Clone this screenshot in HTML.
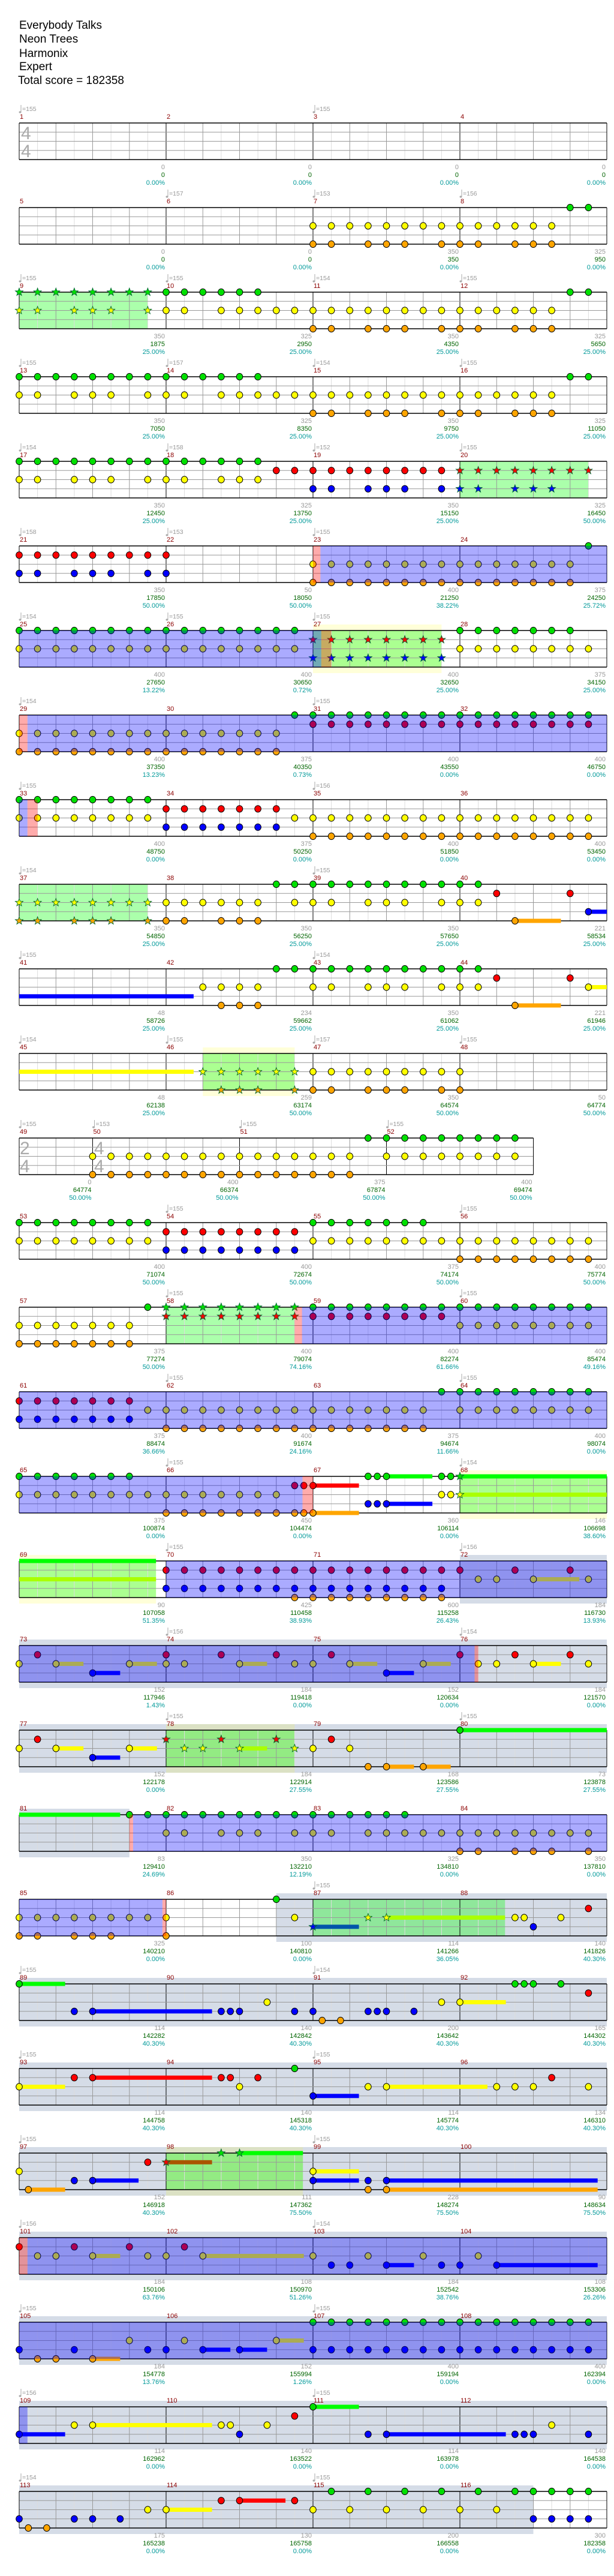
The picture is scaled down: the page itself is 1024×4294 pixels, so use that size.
<!DOCTYPE html>
<html><head><meta charset="utf-8"><style>
html,body{margin:0;padding:0;background:#fff;width:1024px;height:4294px;overflow:hidden}
svg{display:block}
text{font-family:"Liberation Sans",sans-serif}
</style></head><body>
<svg id="s" width="1024" height="4294" xmlns="http://www.w3.org/2000/svg">
<text x="32" y="48" font-size="19">Everybody Talks</text>
<text x="32" y="71" font-size="19">Neon Trees</text>
<text x="32" y="95" font-size="19">Harmonix</text>
<text x="32" y="117" font-size="19">Expert</text>
<text x="30" y="140" font-size="19">Total score = 182358</text>
</svg>
<script>
const R=[
{m:1,tp:[[0,155],[16,155]],sc:[[0,0,"0.00%"],[0,0,"0.00%"],[0,0,"0.00%"],[0,0,"0.00%"]],ts:1,n:[]},
{m:5,tp:[[8,157],[16,153],[24,156]],sc:[[0,0,"0.00%"],[0,0,"0.00%"],[350,350,"0.00%"],[325,950,"0.00%"]],
n:["..............................oo","","................oooooooooooooo..","","................oo.ooo.ooo.ooo.."]},
{m:9,tp:[[0,155],[8,155],[16,154],[24,155]],sc:[[350,1875,"25.00%"],[325,2950,"25.00%"],[350,4350,"25.00%"],[325,5650,"25.00%"]],
g:[[0,7]],n:["ssssssssoooooo................oo","","ss.sss.soo.ooooooooooooooooooo..","","................oo.ooo.ooo.ooo.."]},
{m:13,tp:[[0,155],[8,157],[16,154],[24,155]],sc:[[350,7050,"25.00%"],[325,8350,"25.00%"],[350,9750,"25.00%"],[325,11050,"25.00%"]],
n:["oooooooooooooo................oo","","oo.ooo.ooo.ooooooooooooooooooo..","","................oo.ooo.ooo.ooo.."]},
{m:17,tp:[[0,154],[8,158],[16,152],[24,155]],sc:[[350,12450,"25.00%"],[325,13750,"25.00%"],[350,15150,"25.00%"],[325,16450,"50.00%"]],
g:[[24,31]],n:["oooooooooooooo..................","..............oooooooooossssssss","oo.ooo.ooo.ooo..................","................oo.ooo.oss.sss..",""]},
{m:21,tp:[[0,158],[8,153],[16,155]],sc:[[350,17850,"50.00%"],[50,18050,"50.00%"],[400,21250,"38.22%"],[375,24250,"25.72%"]],
p:[[16,16.4]],b:[[16.4,32]],n:["...............................o","ooooooooo.......................","................ooooooooooooooo.","oo.ooo.oo.......................","................ooooooooooooooo."]},
{m:25,tp:[[0,154],[8,155],[16,155]],sc:[[400,27650,"13.22%"],[400,30650,"0.72%"],[400,32650,"25.00%"],[375,34150,"25.00%"]],
y:[[16,23]],g:[[16,23]],b:[[0,16.45]],p:[[16.45,17]],n:["oooooooooooooooo........ooooooo.","................ssssssss........","oooooooooooooooo........oooooooo","................ssssssss........",""]},
{m:29,tp:[[0,154],[16,155]],sc:[[400,37350,"13.23%"],[375,40350,"0.73%"],[400,43550,"0.00%"],[400,46750,"0.00%"]],
p:[[0,0.45]],b:[[0.45,32]],n:["...............ooooooooooooooooo","................oooooooooooooooo","ooooooooooooooo.................","","ooooooooooooooo................."]},
{m:33,tp:[[0,155],[16,156]],sc:[[400,48750,"0.00%"],[375,50250,"0.00%"],[400,51850,"0.00%"],[400,53450,"0.00%"]],
b:[[0,0.45]],p:[[0.45,1]],n:["oooooooo........................","........ooooooo.................","oooooooo.......ooooooooooooooooo","........ooooooo.................","................oooooooooooooooo"]},
{m:37,tp:[[0,154],[16,155]],sc:[[350,54850,"25.00%"],[350,56250,"25.00%"],[350,57650,"25.00%"],[221,58534,"25.00%"]],
g:[[0,7]],n:["..............oooooooooooo......","..........................o...o.","ssssssssoooooo.ooo.ooo.ooo......","...............................o","ss.sss.soo.ooo.............o...."],su:[[4,27,29.5],[3,31,32]]},
{m:41,tp:[[0,155],[16,154]],sc:[[48,58726,"25.00%"],[234,59662,"25.00%"],[350,61062,"25.00%"],[221,61946,"25.00%"]],
n:["..............oooooooooooo......","..........................o...o.","..........oooo..oo.ooo.ooo.....o","","...........ooo.............o...."],su:[[3,0,9.5],[4,27,29.5],[2,31,32]]},
{m:45,tp:[[0,154],[8,155],[16,157],[24,155]],sc:[[48,62138,"25.00%"],[259,63174,"50.00%"],[350,64574,"50.00%"],[50,64774,"50.00%"]],
y:[[10,15]],g:[[10,15]],n:["","","..........ssssssooooooooo.......","","...........sss.soo.ooo.oo......."],su:[[2,0,9.5]]},
{m:49,ns:28,ms:[0,4,12,20],tp:[[0,155],[4,153],[12,155],[20,155]],sc:[[0,64774,"50.00%"],[400,66374,"50.00%"],[375,67874,"50.00%"],[400,69474,"50.00%"]],ts:2,
n:["...................ooooooooo....","","....ooooooooooooooo.oooooooo....","","....ooooooooooooooo............."]},
{m:53,tp:[[8,155],[24,155]],sc:[[400,71074,"50.00%"],[400,72674,"50.00%"],[375,74174,"50.00%"],[400,75774,"50.00%"]],
n:["oooooooo........ooooooo.........","........oooooooo................","oooooooo........oooooooooooooooo","........oooooooo................","........................oooooooo"]},
{m:57,tp:[[8,155],[24,155]],sc:[[375,77274,"50.00%"],[400,79074,"74.16%"],[400,82274,"61.66%"],[400,85474,"49.16%"]],
g:[[8,15]],p:[[15,15.4]],b:[[15.4,32]],n:[".......ossssssssoooooooooooooooo","........ssssssssoooooooo........","ooooooo.................oooooooo","","ooooooo........................."]},
{m:61,tp:[[8,155],[24,155]],sc:[[375,88474,"36.66%"],[400,91674,"24.16%"],[375,94674,"11.66%"],[400,98074,"0.00%"]],
b:[[0,32]],n:[".......................ooooooooo","ooooooo.........................",".......oooooooooooooooo.oooooooo","ooooooo.........................","........ooooooooooooooo........."]},
{m:65,tp:[[8,155],[24,154]],sc:[[375,100874,"0.00%"],[450,104474,"0.00%"],[360,106114,"0.00%"],[146,106698,"38.60%"]],
y:[[24,32]],g:[[24,32]],b:[[0,15.43]],p:[[15.43,16]],
n:["ooooooo............+o..+s.......","...............+o...............","ooooooooooooooo........+s.......","...................+o...........","........ooooooo+o..............."],
su:[[0,20,22.5],[0,24,32],[1,16,18.5],[2,24,32,"#af0"],[3,20,22.5],[4,16,18.5]]},
{m:69,tp:[[8,155],[24,156]],sc:[[90,107058,"51.35%"],[425,110458,"38.93%"],[600,115258,"26.43%"],[184,116730,"13.93%"]],
y:[[0,7.45]],gr:[[24,32]],g:[[0,7.45]],b:[[8,32]],
n:["","........ooooooooooooooooo..o..o.",".........................oo.o..o","........oooooooooooooooo........","...............ooooooooo........"],su:[[0,0,7.45],[2,0,7.45,"#af0"],[2,28,30.5]]},
{m:73,tp:[[8,156],[24,154]],sc:[[152,117946,"1.43%"],[184,119418,"0.00%"],[152,120634,"0.00%"],[184,121570,"0.00%"]],
gr:[[0,32]],b:[[0,24.8]],p:[[24.8,25]],
n:["",".o......o..o..o..o......o..o..o.","o.o...o.oo..o..oo.o...o..oo.o..o","....o...............o...........",""],
su:[[2,2,3.5],[2,6,7.5],[2,12,13.5],[2,18,19.5],[2,22,23.5],[2,28,29.5],[3,4,5.5],[3,20,21.5]]},
{m:77,tp:[[8,155],[24,155]],sc:[[152,122178,"0.00%"],[184,122914,"27.55%"],[168,123586,"27.55%"],[73,123878,"27.55%"]],
gr:[[0,32]],y:[[8,15]],g:[[8,15]],
n:["........................o.......",".o......s..s..s..o..............","o.o...o..ss.s..so.o.............","....o...........................","...................oo.o........."],
su:[[2,2,3.5],[2,6,7.5],[2,12,13.5,"#af0"],[3,4,5.5],[4,20,21.5],[4,22,23.5],[0,24,32]]},
{m:81,tp:[],sc:[[83,129410,"24.69%"],[350,132210,"12.19%"],[325,134810,"0.00%"],[350,137810,"0.00%"]],
gr:[[0,6]],p:[[6,6.2]],b:[[6.2,32]],
n:["......oooooooooooooooo..........","","........oo.ooo.ooo.ooooooooooooo","","........................oo.ooo.o"],su:[[0,0,5.5]]},
{m:85,tp:[[16,155]],sc:[[325,140210,"0.00%"],[100,140810,"0.00%"],[114,141266,"36.05%"],[140,141826,"40.30%"]],
gr:[[14,32]],g:[[16,26.46]],b:[[0,7.8]],p:[[7.8,8]],
n:["..............o.................","...............................o","ooooooooo......o...ss......+.-..","................s...........o...","oo.ooo..o......................."],su:[[3,16,18.5,"#05a"],[2,20,26.46,"#af0"]]},
{m:89,tp:[[0,155],[16,154]],sc:[[114,142282,"40.30%"],[140,142842,"40.30%"],[200,143642,"40.30%"],[165,144302,"40.30%"]],
gr:[[0,32]],
n:["o..........................+o-..","...............................o",".............-.........oo.......","...oo......+o..oo..+o-..........","................--.............."],su:[[0,0,2.5],[3,4,10.5],[2,24,26.5]]},
{m:93,tp:[[0,155],[16,155]],sc:[[114,144758,"40.30%"],[140,145318,"40.30%"],[114,145774,"40.30%"],[134,146310,"40.30%"]],
gr:[[0,32]],
n:["...............o................","...oo......+.o...............o..","o...........o......oo.....ooo..o","................o...............",""],su:[[1,4,10.5],[2,0,2.5],[2,20,25.5],[3,16,18.5]]},
{m:97,tp:[[0,155],[16,155]],sc:[[152,146918,"40.30%"],[111,147362,"75.50%"],[228,148274,"75.50%"],[90,148634,"75.50%"]],
gr:[[0,32]],y:[[8,15.45]],g:[[8,15.45]],
n:["...........ss...................",".......os.......................","o...............o...............","...oo...........o..oo...........","-..................oo..........."],
su:[[1,8,10.5,"#a50"],[0,12,15.45],[2,16,18.5],[3,4,6.5],[3,16,18.5],[3,20,31.5],[4,0.5,2.5],[4,20,31.5]]},
{m:101,tp:[[0,156],[16,154]],sc:[[184,150106,"63.76%"],[108,150970,"51.26%"],[184,152542,"38.76%"],[108,153306,"26.26%"]],
gr:[[0,32]],p:[[0,0.45]],b:[[0.45,32]],
n:["","o..o..o..o......................",".oo.o..oo.o.....o..o..o..o......",".................oo.o..oo.o.....",""],su:[[2,4,5.5],[2,10,15.5],[3,20,21.5],[3,26,31.5]]},
{m:105,tp:[[0,155],[16,155]],sc:[[184,154778,"13.76%"],[152,155994,"1.26%"],[400,159194,"0.00%"],[400,162394,"0.00%"]],
gr:[[0,32]],b:[[0,32]],
n:["................oooooooooooooooo","","......o..o....o.................","o..o...oo.o.o...oooooooooooooooo",".oo.o..........................."],su:[[2,14,15.5],[3,10,11.5],[3,12,13.5],[4,4,5.5]]},
{m:109,tp:[[0,156],[16,155]],sc:[[114,162962,"0.00%"],[140,163522,"0.00%"],[114,163978,"0.00%"],[140,164538,"0.00%"]],
gr:[[0,32]],b:[[0,0.45]],
n:["................o...............","...............o................","...oo......+.-...............o..","o...........o......oo......+o..o",""],su:[[0,16,18.5],[2,4,10.5],[3,0,2.5],[3,20,26.5]]},
{m:113,tp:[[0,154],[16,155]],sc:[[175,165238,"0.00%"],[130,165758,"0.00%"],[200,166558,"0.00%"],[300,182358,"0.00%"]],
gr:[[0,28]],
n:[".................o.o.o.o.o.ooooo","...........oo..o................",".......oo.......o.o.o.o.o.o.....","o..oo-......................oooo","--.............................."],su:[[1,12,14.5],[2,8,10.5]]}
];
const L=32,W=30.625,T0=205,P=141,H=61,LS=H/4;
const COL=["#00e000","#ff0000","#ffff00","#0000ff","#ffa500"];
const SCOL=["#00ff00","#ff0000","#ffff00","#0000ff","#ffa500"];
let o=[];
const X=s=>L+s*W;
function rect(x0,x1,y,h,f){o.push(`<rect x="${x0.toFixed(1)}" y="${y.toFixed(1)}" width="${(x1-x0).toFixed(1)}" height="${h.toFixed(1)}" fill="${f}"/>`)}
function line(x1,y1,x2,y2,c,w){o.push(`<line x1="${x1.toFixed(1)}" y1="${y1.toFixed(1)}" x2="${x2.toFixed(1)}" y2="${y2.toFixed(1)}" stroke="${c}" stroke-width="${w||1}"/>`)}
function txt(x,y,s,c,sz,anc){o.push(`<text x="${x.toFixed(1)}" y="${y.toFixed(1)}" font-size="${sz}" fill="${c}"${anc?` text-anchor="${anc}"`:""}>${s}</text>`)}
function star(cx,cy,f){let p=[];for(let i=0;i<10;i++){let r=i%2?2.8:6.8,a=-Math.PI/2+i*Math.PI/5;p.push((cx+r*Math.cos(a)).toFixed(1)+","+(cy+r*Math.sin(a)).toFixed(1))}
o.push(`<polygon points="${p.join(" ")}" fill="${f}" stroke="#063" stroke-width="0.9"/>`)}
R.forEach((r,ri)=>{
 const T=T0+ri*P, ns=r.ns||32, ms=r.ms||[0,8,16,24], me=ms.slice(1).concat([ns]);
 const xe=X(ns);
 (r.gr||[]).forEach(a=>rect(X(a[0]),X(Math.min(a[1],ns)),T-10,H+20,"#d5dce7"));
 (r.y||[]).forEach(a=>rect(X(a[0]),X(a[1]),T-10,H+20,"rgba(255,255,0,0.15)"));
 (r.g||[]).forEach(a=>rect(X(a[0]),X(a[1]),T,H,"rgba(0,255,0,0.33)"));
 for(let s=1;s<ns;s++){let x=X(s);if(ms.includes(s))line(x,T,x,T+H,"#000");else if(s%2==0)line(x,T,x,T+H,"#999");else line(x,T,x,T+H,"#ddd");}
 for(let k=1;k<4;k++)line(L,T+k*LS,xe,T+k*LS,"#999");
 line(L,T,xe,T,"#000",1.5);line(L,T+H,xe,T+H,"#000",1.5);line(L,T,L,T+H,"#000");line(xe,T,xe,T+H,"#000");
 if(r.ts==1){txt(35,T+27,"4","#aaa",30);txt(35,T+57,"4","#aaa",30);}
 if(r.ts==2){txt(33,T+27,"2","#aaa",30);txt(33,T+57,"4","#aaa",30);txt(157,T+27,"4","#aaa",30);txt(157,T+57,"4","#aaa",30);}
 (r.su||[]).forEach(a=>{let x0=X(a[1]),x1=X(Math.min(a[2],ns));rect(x0,x1,T+a[0]*LS-3.5,7,a[3]||SCOL[a[0]]);});
 (r.n||[]).forEach((ln,l)=>{const y=T+l*LS;for(let s=0;s<Math.min(ln.length,ns);s++){const c=ln[s];
   const pts=c=="o"||c=="s"?[s]:c=="+"?[s,s+0.5]:c=="-"?[s+0.5]:[];
   pts.forEach(q=>{if(c=="s")star(X(q),y,COL[l]);else o.push(`<ellipse cx="${X(q).toFixed(1)}" cy="${y.toFixed(1)}" rx="5.3" ry="5.6" fill="${COL[l]}" stroke="#000" stroke-width="1"/>`);});}});
 (r.b||[]).forEach(a=>rect(X(a[0]),X(a[1]),T,H,"rgba(0,0,255,0.33)"));
 (r.p||[]).forEach(a=>rect(X(a[0]),X(a[1]),T,H,"rgba(255,0,0,0.33)"));
 ms.forEach((s,i)=>txt(X(s)+1,T-7,String(r.m+i),"#8b0000",11));
 (r.tp||[]).forEach(t=>{const x=X(t[0]);o.push(`<ellipse cx="${(x+1.5).toFixed(1)}" cy="${T-18}" rx="2" ry="1.6" fill="#aaa"/>`);line(x+3,T-18,x+3,T-30,"#aaa");txt(x+5,T-20,"="+t[1],"#999",10.5);});
 (r.sc||[]).forEach((v,i)=>{const x=X(me[i])-2;txt(x,T+H+16,String(v[0]),"#999",11,"end");txt(x,T+H+29,String(v[1]),"#006400",11,"end");txt(x,T+H+42,v[2],"#009999",11,"end");});
});
document.getElementById("s").insertAdjacentHTML("beforeend",o.join(""));
</script>
</body></html>
